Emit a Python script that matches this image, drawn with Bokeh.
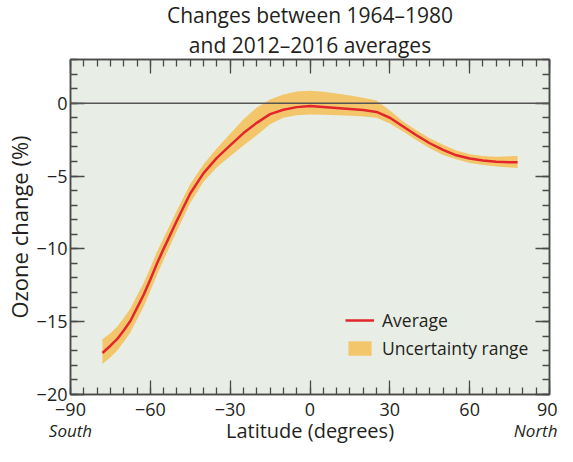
from bokeh.plotting import figure
from bokeh.models import (LinearAxis, Span, Legend, LegendItem, Title,
                          FixedTicker, CustomJSTickFormatter)
from bokeh.embed import file_html
from bokeh.resources import INLINE

# ---- data ----
lat = [-78, -75, -72.5, -70, -67.5, -65, -62.5, -60, -57.5, -55, -50, -45, -40,
       -35, -30, -25, -20, -15, -10, -5, 0, 5, 10, 15, 20, 25, 30, 35, 40, 45,
       50, 55, 60, 65, 70, 75, 78]
avg = [-17.15, -16.65, -16.2, -15.6, -14.95, -14.05, -13.15, -12.1, -11.0, -10.0,
       -8.05, -6.2, -4.8, -3.75, -2.9, -2.05, -1.35, -0.75, -0.45, -0.27, -0.2,
       -0.26, -0.33, -0.4, -0.47, -0.6, -1.0, -1.6, -2.2, -2.75, -3.2, -3.58,
       -3.8, -3.94, -4.02, -4.05, -4.05]
lower = [-17.9, -17.45, -17.0, -16.4, -15.75, -14.85, -13.95, -12.9, -11.8, -10.75,
         -8.75, -6.85, -5.4, -4.4, -3.65, -2.9, -2.2, -1.45, -1.0, -0.82, -0.77,
         -0.8, -0.82, -0.86, -0.92, -1.0, -1.4, -1.95, -2.55, -3.1, -3.55, -3.85,
         -4.1, -4.25, -4.35, -4.42, -4.45]
upper = [-16.2, -15.8, -15.35, -14.75, -14.1, -13.2, -12.35, -11.3, -10.2, -9.25,
         -7.35, -5.55, -4.2, -3.1, -2.1, -1.1, -0.3, 0.25, 0.6, 0.8, 0.85, 0.78,
         0.66, 0.53, 0.38, 0.18, -0.5, -1.25, -1.85, -2.4, -2.85, -3.25, -3.5,
         -3.62, -3.67, -3.65, -3.63]

x_major = [-90, -60, -30, 0, 30, 60, 90]
x_minor = list(range(-90, 91, 5))
y_major = [-20, -15, -10, -5, 0]
y_minor = list(range(-20, 4, 1))
y_top = 3

title_line1 = "Changes between 1964\u20131980"
title_line2 = "and 2012\u20132016 averages"
x_label = "Latitude (degrees)"
y_label = "Ozone change (%)"
south_label = "South"
north_label = "North"

# ---- styles ----
FONT = "Open Sans"
BG = "#E8EEE5"
BAND = "#F3C66C"
RED = "#E3262B"
FRAME = "#4A4A4A"
TXT = "#231F20"

p = figure(width=557, height=446, x_range=(x_major[0], x_major[-1]),
           y_range=(y_major[0], y_top),
           output_backend="svg", toolbar_location=None,
           min_border_left=65, min_border_right=8, min_border_top=51,
           min_border_bottom=52,
           background_fill_color=BG, border_fill_color="white",
           outline_line_color=FRAME, outline_line_width=1.5)
p.grid.visible = False

fmt = CustomJSTickFormatter(code="return tick < 0 ? '\\u2212' + Math.abs(tick) : String(tick);")
blank = CustomJSTickFormatter(code="return '';")

def style_axis(ax, ticks, minors, show_labels):
    ax.ticker = FixedTicker(ticks=ticks, minor_ticks=minors)
    ax.major_tick_in = 14
    ax.major_tick_out = 0
    ax.minor_tick_in = 7
    ax.minor_tick_out = 0
    ax.major_tick_line_color = FRAME
    ax.minor_tick_line_color = FRAME
    ax.major_tick_line_width = 1.3
    ax.minor_tick_line_width = 1.3
    ax.axis_line_color = FRAME
    ax.axis_line_width = 1.5
    ax.axis_label_standoff = 0
    if show_labels:
        ax.formatter = fmt
        ax.major_label_text_font = FONT
        ax.major_label_text_font_size = "18px"
        ax.major_label_text_color = TXT
        ax.axis_label_text_font = FONT
        ax.axis_label_text_font_style = "normal"
        ax.axis_label_text_color = TXT
    else:
        ax.formatter = blank
        ax.major_label_text_font_size = "1px"
        ax.major_label_standoff = 0

style_axis(p.xaxis[0], x_major, x_minor, True)
style_axis(p.yaxis[0], y_major, y_minor, True)
p.xaxis[0].major_label_standoff = 8
p.yaxis[0].axis_label = y_label
p.yaxis[0].axis_label_text_font_size = "22px"
p.yaxis[0].major_label_standoff = 3

top_ax = LinearAxis()
right_ax = LinearAxis()
style_axis(top_ax, x_major, x_minor, False)
style_axis(right_ax, y_major, y_minor, False)
p.add_layout(top_ax, "above")
p.add_layout(right_ax, "right")

# second row under the numbers: hemisphere hints + axis title on one line
hint_ax = LinearAxis(ticker=FixedTicker(ticks=[x_major[0], x_major[-1]], minor_ticks=[]),
                     major_label_overrides={x_major[0]: south_label,
                                            x_major[-1]: north_label},
                     major_tick_in=0, major_tick_out=0, minor_tick_in=0, minor_tick_out=0,
                     axis_line_color=None, major_label_standoff=0,
                     major_label_text_font=FONT, major_label_text_font_size="17px",
                     major_label_text_font_style="italic", major_label_text_color=TXT,
                     axis_label=x_label, axis_label_text_font=FONT,
                     axis_label_text_font_size="20px", axis_label_text_font_style="normal",
                     axis_label_text_color=TXT, axis_label_standoff=-28)
p.add_layout(hint_ax, "below")

# two-line title, each line centred
p.title.text = title_line1
p.title.align = "center"
p.title.text_font = FONT
p.title.text_font_size = "21px"
p.title.text_font_style = "normal"
p.title.text_color = TXT
p.title.standoff = -3
p.add_layout(Title(text=title_line2, align="center", text_font=FONT,
                   text_font_size="21px", text_font_style="normal",
                   text_color=TXT, standoff=2), "above")

# ---- glyphs ----
band = p.varea(x=lat, y1=lower, y2=upper, fill_color=BAND, fill_alpha=1.0)
p.add_layout(Span(location=0, dimension="width", line_color="#555555", line_width=1.5))
line = p.line(x=lat, y=avg, line_color=RED, line_width=2.5)

legend = Legend(items=[LegendItem(label="Average", renderers=[line]),
                       LegendItem(label="Uncertainty range", renderers=[band])],
                location=(275, 34), orientation="vertical",
                glyph_width=29, glyph_height=18, label_height=18,
                label_standoff=8, spacing=4, padding=0, margin=0,
                background_fill_alpha=0, border_line_alpha=0,
                label_text_font=FONT, label_text_font_size="17.5px",
                label_text_color=TXT)
p.add_layout(legend)

open("out.html", "w").write(file_html(p, INLINE))
